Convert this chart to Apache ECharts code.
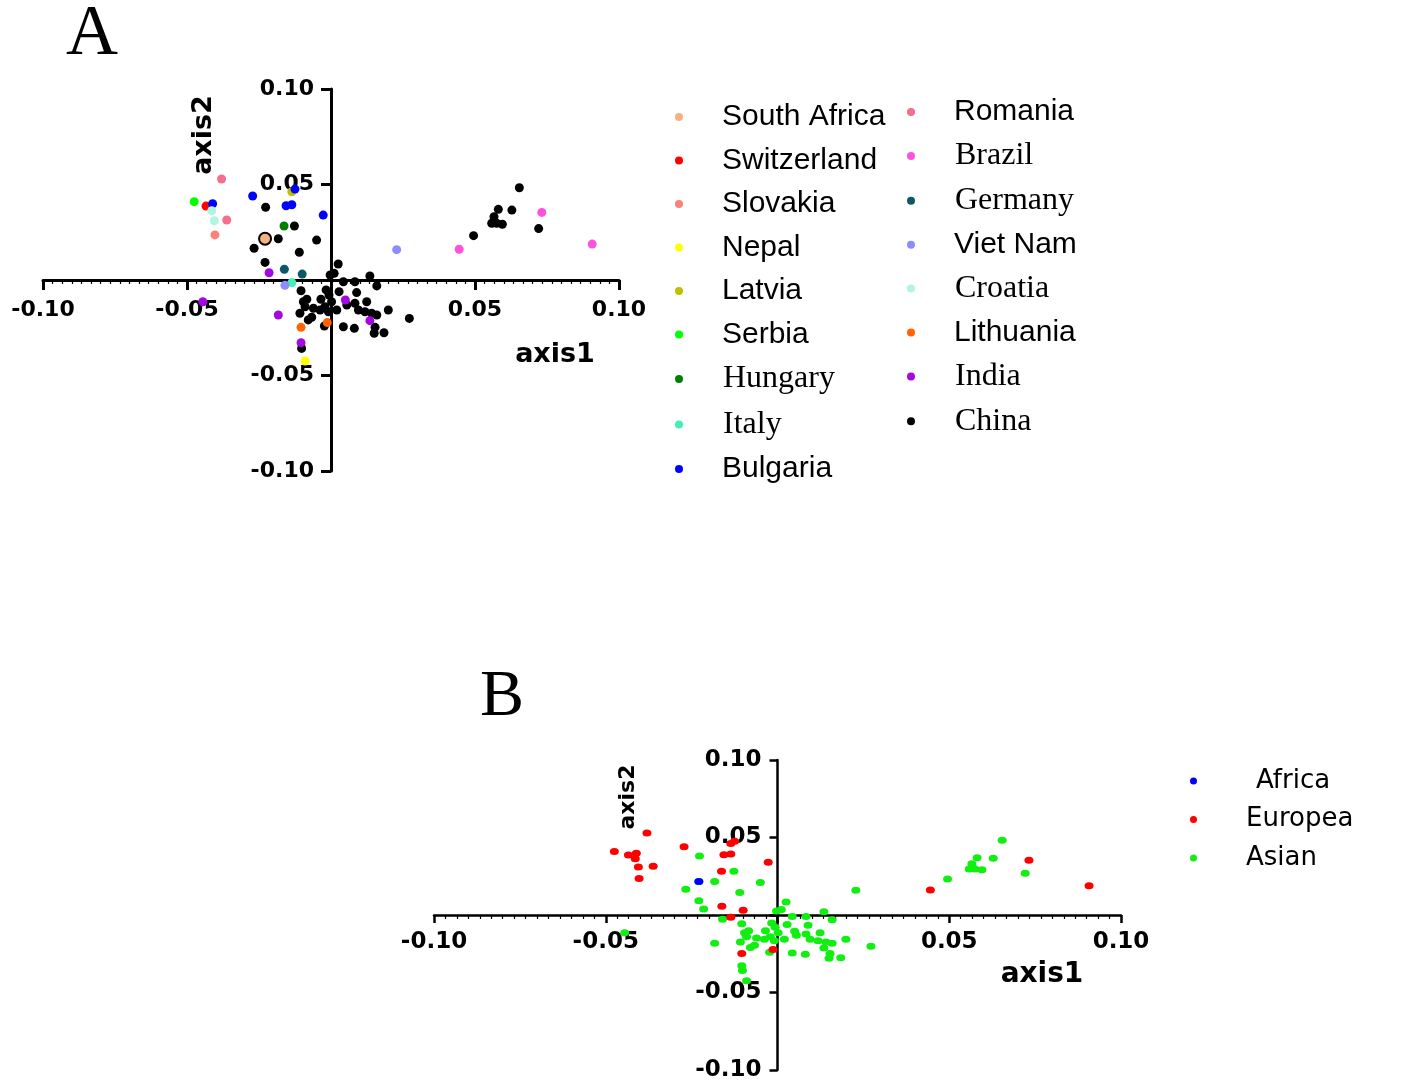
<!DOCTYPE html>
<html>
<head>
<meta charset="utf-8">
<script src="https://cdn.jsdelivr.net/npm/echarts@6/dist/echarts.min.js"></script>
<style>
  html, body { margin: 0; padding: 0; background: #fff; }
  #chart { width: 1403px; height: 1080px; }
</style>
</head>
<body>
<div id="chart"></div>
<script>
// country order as in the legend of panel A
var countries = ['South Africa', 'Switzerland', 'Slovakia', 'Nepal', 'Latvia', 'Serbia', 'Hungary', 'Italy', 'Bulgaria',
  'Romania', 'Brazil', 'Germany', 'Viet Nam', 'Croatia', 'Lithuania', 'India', 'China'];
var serifNames = ['Hungary', 'Italy', 'Brazil', 'Germany', 'Croatia', 'India', 'China'];

// panel B groups
var regions = ['Africa', 'Europea', 'Asian'];
var africa = ['South Africa'];
var europe = ['Switzerland', 'Slovakia', 'Latvia', 'Serbia', 'Hungary', 'Italy', 'Bulgaria', 'Romania', 'Brazil',
  'Germany', 'Croatia', 'Lithuania'];
var asia = ['Nepal', 'Viet Nam', 'India', 'China'];

// [axis1, axis2] per sample
var southAfrica = [[-0.0229, 0.0216]];
var switzerland = [[-0.0434, 0.0387]];
var slovakia = [[-0.0403, 0.0236]];
var nepal = [[-0.0090, -0.0424]];
var latvia = [[-0.0136, 0.0462]];
var serbia = [[-0.0475, 0.0410]];
var hungary = [[-0.0163, 0.0283]];
var italy = [[-0.0136, -0.0014]];
var bulgaria = [[-0.0411, 0.0399], [-0.0272, 0.0440], [-0.0125, 0.0476], [-0.0156, 0.0389], [-0.0136, 0.0394], [-0.0027, 0.0340]];
var romania = [[-0.0380, 0.0529], [-0.0362, 0.0314]];
var brazil = [[0.0445, 0.0161], [0.0732, 0.0354], [0.0907, 0.0188]];
var germany = [[-0.0162, 0.0056], [-0.0100, 0.0031]];
var vietNam = [[0.0228, 0.0159], [-0.0160, -0.0028]];
var croatia = [[-0.0414, 0.0363], [-0.0405, 0.0310]];
var lithuania = [[-0.0104, -0.0248], [-0.0013, -0.0223]];
var india = [[-0.0215, 0.0038], [-0.0445, -0.0114], [-0.0183, -0.0183], [0.0050, -0.0105], [0.0135, -0.0213], [-0.0104, -0.0328]];
var china = [
  [-0.0227, 0.0381], [-0.0229, 0.0216], [-0.0183, 0.0216], [-0.0127, 0.0283], [-0.0050, 0.0209], [-0.0267, 0.0166],
  [-0.0110, 0.0145], [-0.0229, 0.0092], [0.0025, 0.0084],
  [-0.0003, 0.0026], [0.0011, 0.0035], [0.0043, -0.0009], [0.0083, -0.0009], [0.0135, 0.0021], [0.0159, -0.0031],
  [-0.0104, -0.0056], [-0.0017, -0.0052], [0.0028, -0.0061], [0.0089, -0.0066], [0.0124, -0.0114], [-0.0084, -0.0101],
  [-0.0096, -0.0114], [-0.0035, -0.0101], [-0.0007, -0.0079], [0.0002, -0.0114], [0.0055, -0.0131], [0.0083, -0.0122],
  [-0.0090, -0.0140], [-0.0061, -0.0148], [-0.0038, -0.0157], [-0.0021, -0.0140], [-0.0009, -0.0166], [0.0020, -0.0157],
  [-0.0108, -0.0174], [0.0095, -0.0157], [0.0118, -0.0166], [0.0141, -0.0174], [0.0159, -0.0183], [0.0199, -0.0157],
  [0.0272, -0.0201], [-0.0079, -0.0209], [-0.0067, -0.0195], [0.0043, -0.0245], [0.0081, -0.0253], [0.0153, -0.0248],
  [0.0150, -0.0279], [0.0184, -0.0276], [-0.0023, -0.0241], [-0.0102, -0.0358],
  [0.0495, 0.0232], [0.0558, 0.0297], [0.0566, 0.0331], [0.0581, 0.0370], [0.0595, 0.0292], [0.0575, 0.0297],
  [0.0628, 0.0366], [0.0654, 0.0483], [0.0721, 0.0269]
];

var pointsOf = {
  'South Africa': southAfrica, 'Switzerland': switzerland, 'Slovakia': slovakia, 'Nepal': nepal, 'Latvia': latvia,
  'Serbia': serbia, 'Hungary': hungary, 'Italy': italy, 'Bulgaria': bulgaria, 'Romania': romania, 'Brazil': brazil,
  'Germany': germany, 'Viet Nam': vietNam, 'Croatia': croatia, 'Lithuania': lithuania, 'India': india, 'China': china
};

var colorOf = {
  'South Africa': '#F5B27E', 'Switzerland': '#FF0000', 'Slovakia': '#F98379', 'Nepal': '#FFFF00', 'Latvia': '#BFBF00',
  'Serbia': '#00FF00', 'Hungary': '#008000', 'Italy': '#44EEB0', 'Bulgaria': '#0000FF', 'Romania': '#F56E8C',
  'Brazil': '#FF52DC', 'Germany': '#0D5766', 'Viet Nam': '#8C8CFF', 'Croatia': '#B0F5DF', 'Lithuania': '#FF6400',
  'India': '#A408E0', 'China': '#000000'
};
var regionColor = { 'Africa': '#0000FF', 'Europea': '#FF0000', 'Asian': '#11EE11' };

var tickFmt = function(v) { return Math.abs(v) < 1e-9 ? '' : v.toFixed(2); };

// axes cross at zero: shift each axis into the middle of its grid
function makeAxes(idx, w, h, lw, font, xMargin, yMargin, tickLen) {
  function base() {
    return {
      gridIndex: idx, type: 'value', min: -0.1, max: 0.1, interval: 0.05,
      splitLine: { show: false },
      axisLine: { onZero: false, lineStyle: { color: '#000', width: lw } },
      axisTick: { show: true, length: tickLen, lineStyle: { color: '#000', width: lw } },
      axisLabel: { formatter: tickFmt, color: '#000', fontFamily: 'DejaVu Sans', fontWeight: 'bold', fontSize: font }
    };
  }
  var x = base();
  x.position = 'bottom'; x.offset = -h / 2; x.axisLabel.margin = xMargin;
  x.minorTick = { show: true, splitNumber: 15, length: 4, lineStyle: { color: '#000', width: 1.2 } };
  var y = base();
  y.position = 'left'; y.offset = -w / 2; y.axisLabel.margin = yMargin;
  return { x: x, y: y };
}

var axA = makeAxes(0, 576, 382, 3, 22, 19, 17, 10);
var axB = makeAxes(1, 687, 310, 2.5, 23, 16, 16, 8);

var series = [];
// China first so the coloured samples sit on top
var drawOrder = ['China'].concat(countries.filter(function(c) { return c !== 'China'; }));
drawOrder.forEach(function(name) {
  var s = {
    name: name, type: 'scatter', xAxisIndex: 0, yAxisIndex: 0, data: pointsOf[name],
    symbol: 'circle', symbolSize: 9, itemStyle: { color: colorOf[name], opacity: 1 }
  };
  if (name === 'South Africa') { s.symbolSize = 12; s.itemStyle.borderColor = '#000'; s.itemStyle.borderWidth = 2; }
  series.push(s);
});

function gather(list) {
  var out = [];
  list.forEach(function(n) { out = out.concat(pointsOf[n]); });
  return out;
}
var regionMembers = { 'Africa': africa, 'Europea': europe, 'Asian': asia };
['Asian', 'Europea', 'Africa'].forEach(function(r) {
  series.push({
    name: r, type: 'scatter', xAxisIndex: 1, yAxisIndex: 1, data: gather(regionMembers[r]),
    symbol: 'circle', symbolSize: [9, 7], itemStyle: { color: regionColor[r], opacity: 1 }
  });
});

var legendRich = {
  s: { fontFamily: 'Liberation Sans', fontSize: 30, lineHeight: 34, padding: [0, 0, 0, 34], color: '#000' },
  t: { fontFamily: 'Liberation Serif', fontSize: 32, lineHeight: 34, padding: [0, 0, 0, 35], color: '#000' }
};
var legendFmt = function(n) { return serifNames.indexOf(n) >= 0 ? '{t|' + n + '}' : '{s|' + n + '}'; };

var chart = echarts.init(document.getElementById('chart'), null, { renderer: 'canvas' });
chart.setOption({
  animation: false,
  backgroundColor: '#fff',
  grid: [
    { left: 43, top: 89, width: 576, height: 382, outerBoundsMode: 'none', containLabel: false },
    { left: 434, top: 760, width: 687, height: 310, outerBoundsMode: 'none', containLabel: false }
  ],
  xAxis: [axA.x, axB.x],
  yAxis: [axA.y, axB.y],
  legend: [
    { data: countries.slice(0, 9), orient: 'vertical', left: 670, top: 97, itemGap: 13.5, icon: 'circle',
      itemWidth: 8, itemHeight: 8, selectedMode: false, itemStyle: { borderWidth: 0 },
      formatter: legendFmt, textStyle: { rich: legendRich } },
    { data: countries.slice(9), orient: 'vertical', left: 902, top: 92, itemGap: 12.9, icon: 'circle',
      itemWidth: 8, itemHeight: 8, selectedMode: false, itemStyle: { borderWidth: 0 },
      formatter: legendFmt, textStyle: { rich: legendRich } },
    { data: regions, orient: 'vertical', left: 1185, top: 763, itemGap: 12.5, icon: 'circle',
      itemWidth: 9, itemHeight: 7, selectedMode: false,
      formatter: function(n) { return n === 'Africa' ? '{a|' + n + '}' : '{r|' + n + '}'; },
      textStyle: { rich: {
        a: { fontFamily: 'DejaVu Sans', fontSize: 26, lineHeight: 30, padding: [0, 0, 0, 53], color: '#000' },
        r: { fontFamily: 'DejaVu Sans', fontSize: 26, lineHeight: 30, padding: [0, 0, 0, 43], color: '#000' }
      } } }
  ],
  graphic: [
    { type: 'text', x: 92, y: 35, style: { text: 'A', font: '72px "Liberation Serif"', fill: '#000', align: 'center', verticalAlign: 'middle' } },
    { type: 'text', x: 502, y: 698, style: { text: 'B', font: '66px "Liberation Serif"', fill: '#000', align: 'center', verticalAlign: 'middle' } },
    { type: 'text', x: 555, y: 355, style: { text: 'axis1', font: 'bold 27px "DejaVu Sans"', fill: '#000', align: 'center', verticalAlign: 'middle' } },
    { type: 'text', x: 204, y: 135, rotation: Math.PI / 2, style: { text: 'axis2', font: 'bold 27px "DejaVu Sans"', fill: '#000', align: 'center', verticalAlign: 'middle' } },
    { type: 'text', x: 1042, y: 975, style: { text: 'axis1', font: 'bold 28px "DejaVu Sans"', fill: '#000', align: 'center', verticalAlign: 'middle' } },
    { type: 'text', x: 628, y: 797, rotation: Math.PI / 2, style: { text: 'axis2', font: 'bold 22px "DejaVu Sans"', fill: '#000', align: 'center', verticalAlign: 'middle' } }
  ],
  series: series
});
</script>
</body>
</html>
